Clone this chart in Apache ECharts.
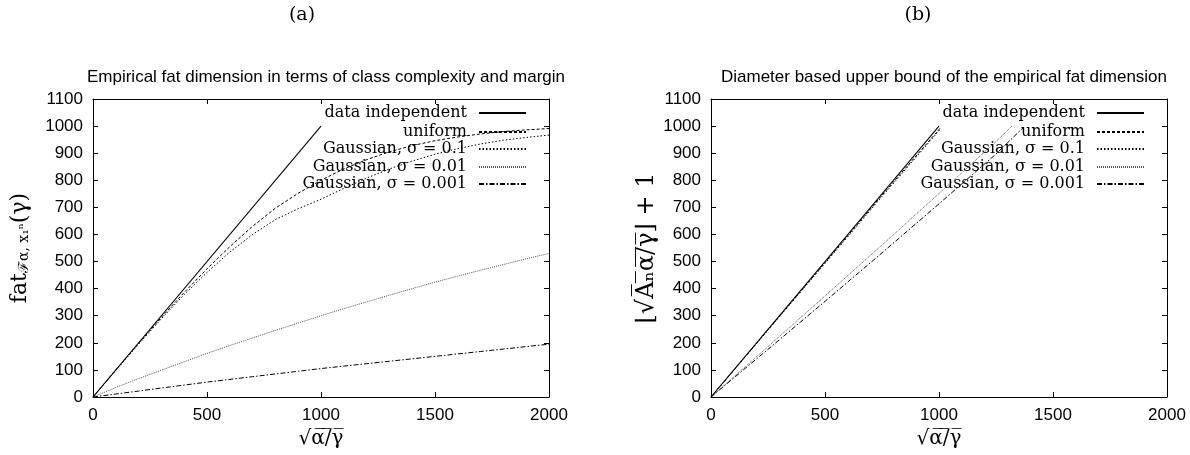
<!DOCTYPE html>
<html>
<head>
<meta charset="utf-8">
<script src="https://cdn.jsdelivr.net/npm/echarts@6/dist/echarts.min.js"></script>
<style>
html,body{margin:0;padding:0;background:#fff;}
#c{width:1190px;height:455px;}
</style>
</head>
<body>
<div id="c"></div>
<script>
// ---- tick labels ----
const xTicks = [0, 500, 1000, 1500, 2000];
const yTicks = [0, 100, 200, 300, 400, 500, 600, 700, 800, 900, 1000, 1100];

// ---- series names ----
const seriesNames = ['data independent', 'uniform', 'Gaussian, σ = 0.1', 'Gaussian, σ = 0.01', 'Gaussian, σ = 0.001'];

// ---- panel (a): empirical fat dimension ----
const aIndepX = [0, 1000];
const aIndepY = [0, 1000];
const aX = [0, 100, 200, 300, 400, 500, 600, 700, 800, 900, 1000, 1100, 1200, 1300, 1400, 1500, 1600, 1700, 1800, 1900, 2000];
const aUniform = [0, 100, 198, 294, 386, 473, 555, 630, 697, 752, 800, 842, 876, 905, 928, 946, 960, 971, 980, 986, 991];
const aGauss1 = [0, 98, 195, 289, 378, 460, 535, 600, 655, 695, 730, 770, 808, 842, 871, 896, 917, 934, 948, 958, 967];
const aGauss01 = [0, 35, 68, 99, 130, 161, 190, 218, 246, 273, 300, 326, 351, 376, 400, 424, 446, 468, 489, 510, 530];
const aGauss001 = [0, 11, 22, 33, 44, 55, 65, 75, 85, 95, 105, 114, 123, 132, 141, 150, 159, 168, 177, 186, 195];

// ---- panel (b): diameter based upper bound ----
const bIndepX = [0, 1000];
const bIndepY = [0, 1000];
const bUniformX = [0, 250, 500, 750, 1010];
const bUniformY = [0, 248, 496, 745, 997];
const bGauss1X = [0, 250, 500, 750, 1005];
const bGauss1Y = [0, 247, 493, 740, 988];
const bGauss01X = [0, 250, 500, 750, 1000, 1250, 1320];
const bGauss01Y = [0, 186, 373, 561, 751, 943, 1000];
const bGauss001X = [0, 250, 500, 750, 1000, 1250, 1370];
const bGauss001Y = [0, 176, 353, 532, 713, 897, 995];

function pairs(xs, ys) { return xs.map((x, i) => [x, ys[i]]); }

const styles = [
  { color: '#000', type: 'solid', width: 1.1 },
  { color: '#000', type: [3, 2], width: 1 },
  { color: '#000', type: [1.5, 2], width: 1 },
  { color: '#555', type: [1, 1], width: 1 },
  { color: '#000', type: [5, 2, 1.5, 2], width: 1 }
];

const panelA = [pairs(aIndepX, aIndepY), pairs(aX, aUniform), pairs(aX, aGauss1), pairs(aX, aGauss01), pairs(aX, aGauss001)];
const panelB = [pairs(bIndepX, bIndepY), pairs(bUniformX, bUniformY), pairs(bGauss1X, bGauss1Y), pairs(bGauss01X, bGauss01Y), pairs(bGauss001X, bGauss001Y)];

const series = [];
[panelA, panelB].forEach((panel, p) => {
  panel.forEach((d, i) => {
    series.push({
      type: 'line', name: seriesNames[i], xAxisIndex: p * 2, yAxisIndex: p * 2,
      data: d, symbol: 'none', showSymbol: false, smooth: false,
      lineStyle: { color: styles[i].color, type: styles[i].type, width: styles[i].width },
      itemStyle: { color: 'rgba(0,0,0,0)', borderColor: 'rgba(0,0,0,0)' },
      z: 5 - i
    });
  });
});

const tickFont = { fontFamily: 'Liberation Sans', fontSize: 17, color: '#000' };
const xMin = xTicks[0], xMax = xTicks[xTicks.length - 1], xInt = xTicks[1] - xTicks[0];
const yMin = yTicks[0], yMax = yTicks[yTicks.length - 1], yInt = yTicks[1] - yTicks[0];
const fmt = (v) => String(v);

function xAx(grid, pos, showLabel, name) {
  return {
    type: 'value', gridIndex: grid, position: pos, min: xMin, max: xMax, interval: xInt,
    axisLine: { show: true, onZero: false, lineStyle: { color: '#000', width: 1 } },
    axisTick: { show: true, inside: true, length: 5, lineStyle: { color: '#000' } },
    axisLabel: Object.assign({ show: showLabel, margin: 10, formatter: fmt }, tickFont),
    splitLine: { show: false },
    name: name || '', nameLocation: 'middle', nameGap: 25,
    nameTextStyle: { fontFamily: 'DejaVu Serif', fontSize: 20, color: '#000' }
  };
}
function yAx(grid, pos, showLabel, name, gap, size) {
  return {
    type: 'value', gridIndex: grid, position: pos, min: yMin, max: yMax, interval: yInt,
    axisLine: { show: true, onZero: false, lineStyle: { color: '#000', width: 1 } },
    axisTick: { show: true, inside: true, length: 5, lineStyle: { color: '#000' } },
    axisLabel: Object.assign({ show: showLabel, margin: 10, formatter: fmt }, tickFont),
    splitLine: { show: false },
    name: name || '', nameLocation: 'middle', nameGap: gap || 60, nameRotate: 90,
    nameTextStyle: {
      fontFamily: 'DejaVu Serif', fontSize: size || 21, color: '#000',
      rich: {
        f: { fontFamily: 'DejaVu Serif', fontSize: 22, color: '#000' },
        s: { fontFamily: 'DejaVu Serif', fontSize: 14, color: '#000', verticalAlign: 'bottom', padding: [7, 0, 0, 0] }
      }
    }
  };
}

const xLabel = '√α\u0305/\u0305γ\u0305';
const yLabelA = '{f|fat}{s|ℱα, x₁ⁿ}{f|(γ)}';
const yLabelB = '⌊√A\u0305ₙ\u0305α\u0305/\u0305γ\u0305⌋ + 1';

const legends = [];
const legendRows = [105, 124, 141, 159, 176];
[663, 45].forEach((r) => {
  seriesNames.forEach((n, i) => {
    legends.push({
      data: [n], orient: 'vertical', align: 'right', right: r, top: legendRows[i],
      padding: 0, itemWidth: 47, itemHeight: 16, selectedMode: false,
      itemStyle: { opacity: 0 },
      textStyle: { fontFamily: 'DejaVu Serif', fontSize: 16, color: '#000', padding: [0, 7, 0, 0] }
    });
  });
});

const option = {
  animation: false,
  backgroundColor: '#fff',
  title: [
    { text: '(a)', left: 297, top: 1, textAlign: 'center', textStyle: { fontFamily: 'DejaVu Serif', fontSize: 19, fontWeight: 'normal', color: '#000' } },
    { text: '(b)', left: 913, top: 1, textAlign: 'center', textStyle: { fontFamily: 'DejaVu Serif', fontSize: 19, fontWeight: 'normal', color: '#000' } },
    { text: 'Empirical fat dimension in terms of class complexity and margin', left: 321, top: 64, textAlign: 'center', textStyle: { fontFamily: 'Liberation Sans', fontSize: 17, fontWeight: 'normal', color: '#000' } },
    { text: 'Diameter based upper bound of the empirical fat dimension', left: 939, top: 64, textAlign: 'center', textStyle: { fontFamily: 'Liberation Sans', fontSize: 17, fontWeight: 'normal', color: '#000' } }
  ],
  legend: legends,
  grid: [
    { left: 93, right: 641, top: 99, bottom: 58 },
    { left: 711, right: 23, top: 99, bottom: 58 }
  ],
  xAxis: [xAx(0, 'bottom', true, xLabel), xAx(0, 'top', false), xAx(1, 'bottom', true, xLabel), xAx(1, 'top', false)],
  yAxis: [yAx(0, 'left', true, yLabelA, 62), yAx(0, 'right', false), yAx(1, 'left', true, yLabelB, 52, 24), yAx(1, 'right', false)],
  series: series
};

const chart = echarts.init(document.getElementById('c'), null, { renderer: 'canvas' });
chart.setOption(option);
</script>
</body>
</html>
